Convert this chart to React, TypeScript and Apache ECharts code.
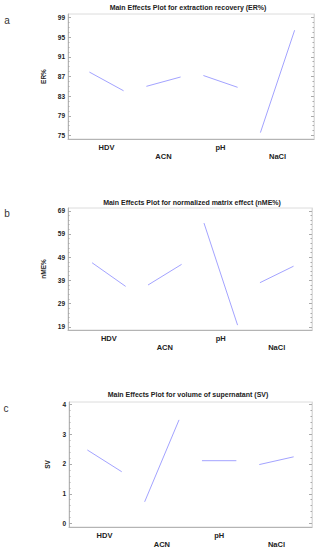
import React, { useEffect, useRef } from 'react';
import * as echarts from 'echarts';

const factors = ['HDV', 'ACN', 'pH', 'NaCl'];

const erLow = [87.9, 85.0, 87.2, 75.6];
const erHigh = [84.1, 86.9, 84.8, 96.4];
const nmeLow = [46.6, 37.0, 63.7, 38.0];
const nmeHigh = [36.4, 45.9, 19.7, 45.1];
const svLow = [2.47, 0.73, 2.11, 1.98];
const svHigh = [1.74, 3.48, 2.11, 2.24];

const erTicks = [75, 79, 83, 87, 91, 95, 99];
const nmeTicks = [19, 29, 39, 49, 59, 69];
const svTicks = [0, 1, 2, 3, 4];

const FONT = '"Liberation Sans", Arial, sans-serif';
const LINE = '#a3a3ff';

const panels = [
  {
    letter: 'a', title: 'Main Effects Plot for extraction recovery (ER%)', name: 'ER%',
    low: erLow, high: erHigh, ticks: erTicks, minorStep: 1, yMin: 74.3, yMax: 99.7,
    grid: { left: 68, top: 14, width: 246, height: 125 }, xMin: -0.675, xMax: 3.64,
    nameGap: 17, titlePos: [188, 7], letterPos: [7, 20],
  },
  {
    letter: 'b', title: 'Main Effects Plot for normalized matrix effect (nME%)', name: 'nME%',
    low: nmeLow, high: nmeHigh, ticks: nmeTicks, minorStep: 2, yMin: 17.6, yMax: 70.2,
    grid: { left: 68, top: 208, width: 244, height: 122 }, xMin: -0.73, xMax: 3.63,
    nameGap: 12, titlePos: [192, 202], letterPos: [7, 213],
  },
  {
    letter: 'c', title: 'Main Effects Plot for volume of supernatant (SV)', name: 'SV',
    low: svLow, high: svHigh, ticks: svTicks, minorStep: 0.2, yMin: -0.115, yMax: 4.08,
    grid: { left: 69, top: 402, width: 243, height: 125 }, xMin: -0.62, xMax: 3.62,
    nameGap: 18, titlePos: [188, 394], letterPos: [6, 408],
  },
];

const HALF = 0.3;

function minorValues(ticks: number[], step: number, min: number, max: number) {
  const out: number[] = [];
  const first = ticks[0];
  const startK = Math.ceil((min - first) / step);
  const endK = Math.floor((max - first) / step);
  for (let k = startK; k <= endK; k++) {
    out.push(Math.round((first + k * step) * 10000) / 10000);
  }
  return out;
}

export default function App() {
  const ref = useRef<HTMLDivElement>(null);
  useEffect(() => {
    if (!ref.current) return;
    const chart = echarts.init(ref.current, undefined, { renderer: 'svg' });
    const grids: any[] = [];
    const xAxes: any[] = [];
    const yAxes: any[] = [];
    const series: any[] = [];
    const graphics: any[] = [];

    panels.forEach((p, gi) => {
      grids.push({ ...p.grid, show: true, borderColor: '#dcdcdc', borderWidth: 1, backgroundColor: 'transparent' });
      xAxes.push({
        type: 'value', gridIndex: gi, min: p.xMin, max: p.xMax, position: 'bottom',
        axisLine: { show: true, onZero: false, lineStyle: { color: '#b4b4b4', width: 1 } },
        axisTick: { show: false },
        splitLine: { show: false },
        axisLabel: {
          customValues: [0, 1, 2, 3],
          margin: 4,
          formatter: (v: number) => {
            const i = Math.round(v);
            return i % 2 ? `{lo|${factors[i]}}` : `{hi|${factors[i]}}`;
          },
          rich: {
            hi: { fontSize: 7.5, fontWeight: 'bold', color: '#222', fontFamily: FONT },
            lo: { fontSize: 7.5, fontWeight: 'bold', color: '#222', fontFamily: FONT, padding: [9, 0, 0, 0] },
          },
        },
      });
      const minors = minorValues(p.ticks, p.minorStep, p.yMin, p.yMax);
      const base = { type: 'value', gridIndex: gi, min: p.yMin, max: p.yMax, splitLine: { show: false } };
      yAxes.push({
        ...base, position: 'left',
        name: p.name, nameLocation: 'middle', nameRotate: 90, nameGap: p.nameGap,
        nameTextStyle: { fontSize: 6.5, fontWeight: 'bold', color: '#222', fontFamily: FONT },
        axisLine: { show: true, onZero: false, lineStyle: { color: '#b4b4b4', width: 1 } },
        axisTick: { show: true, inside: true, length: 3, customValues: p.ticks, lineStyle: { color: '#aaa' } },
        axisLabel: { customValues: p.ticks, margin: 3, fontSize: 6.5, fontWeight: 'bold', color: '#222', fontFamily: FONT },
      });
      yAxes.push({
        ...base, position: 'left',
        axisLine: { show: false, onZero: false },
        axisTick: { show: true, inside: true, length: 1.5, customValues: minors, lineStyle: { color: '#aaa' } },
        axisLabel: { show: false },
      });
      yAxes.push({
        ...base, position: 'right',
        axisLine: { show: true, onZero: false, lineStyle: { color: '#dcdcdc', width: 1 } },
        axisTick: { show: true, inside: true, length: 3, customValues: p.ticks, lineStyle: { color: '#aaa' } },
        axisLabel: { show: false },
      });
      yAxes.push({
        ...base, position: 'right',
        axisLine: { show: false, onZero: false },
        axisTick: { show: true, inside: true, length: 1.5, customValues: minors, lineStyle: { color: '#aaa' } },
        axisLabel: { show: false },
      });
      factors.forEach((f, i) => {
        series.push({
          type: 'line', name: `${p.name}-${f}`, xAxisIndex: gi, yAxisIndex: gi * 4,
          data: [[i - HALF, p.low[i]], [i + HALF, p.high[i]]],
          symbol: 'none', silent: true,
          lineStyle: { color: LINE, width: 1 },
        });
      });
      graphics.push({
        type: 'text', x: p.titlePos[0], y: p.titlePos[1],
        style: { text: p.title, fontSize: 7, fontWeight: 'bold', fill: '#222', fontFamily: FONT, textAlign: 'center', textVerticalAlign: 'middle' },
      });
      graphics.push({
        type: 'text', x: p.letterPos[0], y: p.letterPos[1],
        style: { text: p.letter, fontSize: 10, fill: '#333', fontFamily: FONT, textAlign: 'center', textVerticalAlign: 'middle' },
      });
    });

    chart.setOption({
      animation: false,
      backgroundColor: '#fff',
      grid: grids,
      xAxis: xAxes,
      yAxis: yAxes,
      series,
      graphic: graphics,
    });
    return () => chart.dispose();
  }, []);
  return <div ref={ref} style={{ position: 'absolute', left: 0, top: 0, width: 316, height: 550 }} />;
}
